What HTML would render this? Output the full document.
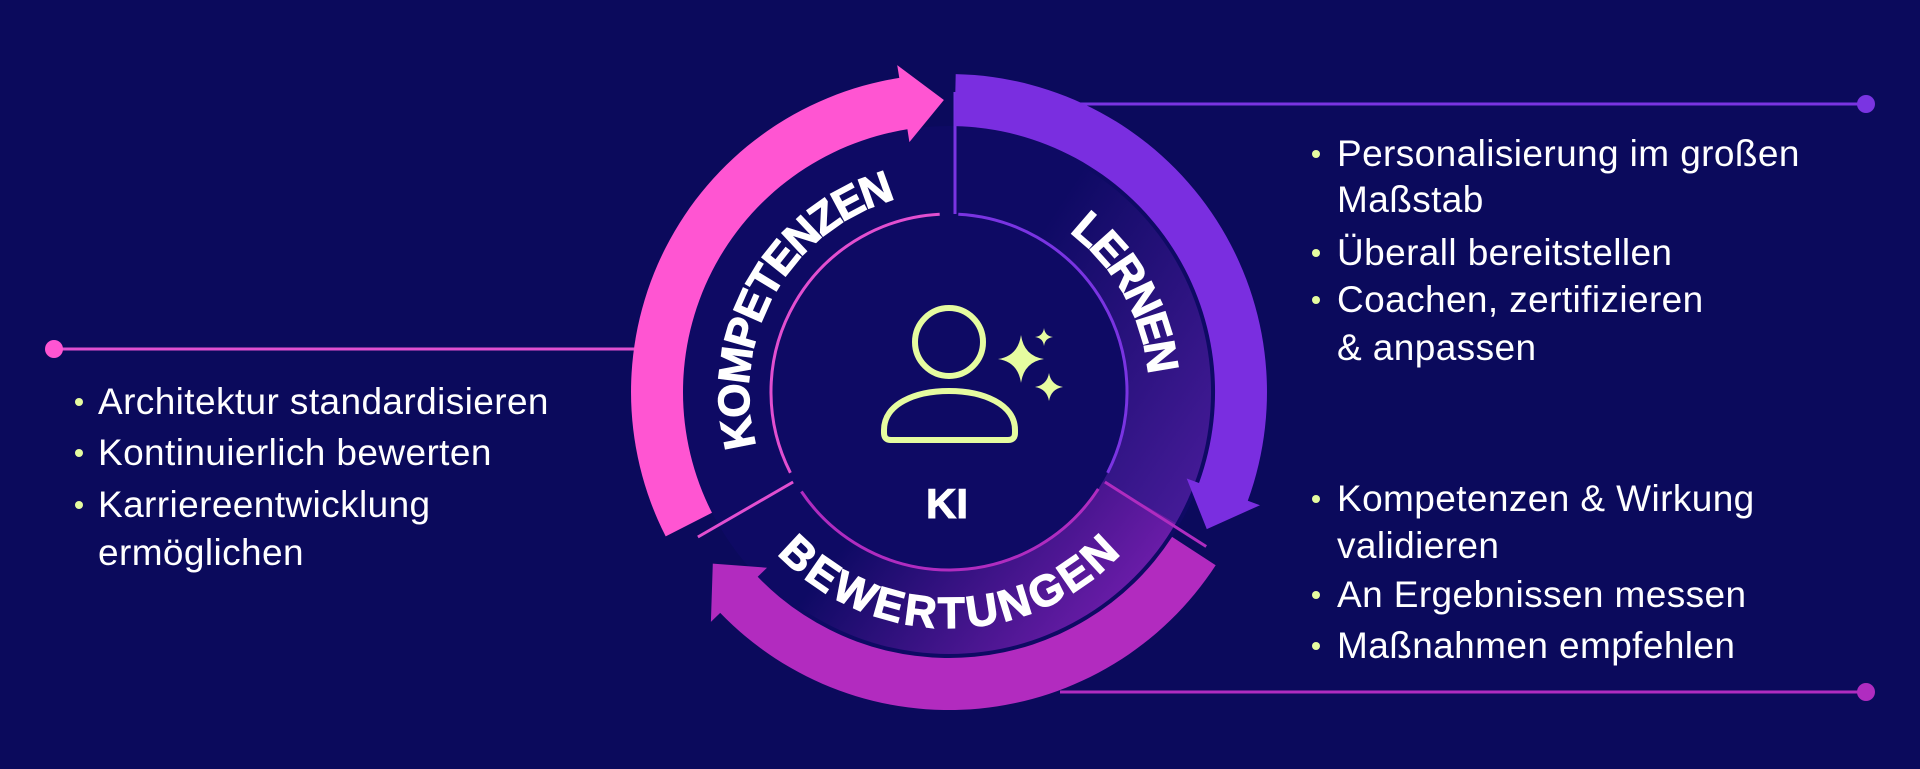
<!DOCTYPE html>
<html><head><meta charset="utf-8">
<style>
html,body{margin:0;padding:0;background:#0b0a5c;}
body{width:1920px;height:769px;overflow:hidden;position:relative;font-family:"Liberation Sans",sans-serif;}
svg{position:absolute;left:0;top:0;}
.t{font-family:"Liberation Sans",sans-serif;font-size:37px;letter-spacing:0.4px;fill:#ffffff;}
.b{fill:#e6fca0;}
.arc{font-family:"Liberation Sans",sans-serif;font-weight:bold;font-size:44px;fill:#fff;stroke:#fff;stroke-width:1.2px;}
</style></head>
<body>
<svg width="1920" height="769" viewBox="0 0 1920 769" xmlns="http://www.w3.org/2000/svg">
<defs>
<linearGradient id="gR" x1="0" y1="0" x2="1" y2="1">
<stop offset="0.3" stop-color="#0e0a64"/><stop offset="1" stop-color="#4a1c9c"/>
</linearGradient>
<linearGradient id="gB" x1="0" y1="0" x2="1" y2="0.3">
<stop offset="0.35" stop-color="#0e0a64"/><stop offset="1" stop-color="#6a1ca8"/>
</linearGradient>
<path id="pK" d=""/>
<path id="pL" d=""/>
<path id="pB" d=""/>
</defs>
<rect width="1920" height="769" fill="#0b0a5c"/>

<line x1="54" y1="349" x2="640" y2="349" stroke="#e050d0" stroke-width="3"/>
<circle cx="54" cy="349" r="9" fill="#ff55d2"/>
<line x1="1075" y1="104" x2="1866" y2="104" stroke="#7a34e2" stroke-width="3"/>
<circle cx="1866" cy="104" r="9" fill="#7a34e2"/>
<line x1="1060" y1="692" x2="1866" y2="692" stroke="#b02cc0" stroke-width="3"/>
<circle cx="1866" cy="692" r="9" fill="#b02cc0"/>

<g id="diag"></g>

<g fill="none" stroke="#e6fca0" stroke-width="6">
<circle cx="949" cy="342" r="34"/>
<path d="M884 430 C884 404 915 391 949 391 C983 391 1015 404 1015 430 L1015 433 Q1015 440 1008 440 L891 440 Q884 440 884 433 Z"/>
</g>
<g fill="#e6fca0">
<path d="M1021 335 Q1024 356 1044 359 Q1024 362 1021 383 Q1018 362 998 359 Q1018 356 1021 335 Z"/>
<path d="M1044 328 Q1045 336 1053 337 Q1045 338 1044 346 Q1043 338 1035 337 Q1043 336 1044 328 Z"/>
<path d="M1049 373 Q1051 385 1063 387 Q1051 389 1049 401 Q1047 389 1035 387 Q1047 385 1049 373 Z"/>
</g>
<text x="947" y="518" text-anchor="middle" font-family="Liberation Sans" font-weight="bold" font-size="42" fill="#fff" stroke="#fff" stroke-width="1">KI</text>

<text class="arc"><textPath href="#pK" startOffset="50%" text-anchor="middle" textLength="315" lengthAdjust="spacing">KOMPETENZEN</textPath></text>
<text class="arc"><textPath href="#pL" startOffset="50%" text-anchor="middle" textLength="168" lengthAdjust="spacing">LERNEN</textPath></text>
<text class="arc"><textPath href="#pB" startOffset="50%" text-anchor="middle" textLength="385" lengthAdjust="spacing">BEWERTUNGEN</textPath></text>

<g class="t">
<circle class="b" cx="79" cy="402" r="4"/>
<circle class="b" cx="79" cy="453" r="4"/>
<circle class="b" cx="79" cy="505" r="4"/>
<text x="98" y="414">Architektur standardisieren</text>
<text x="98" y="465">Kontinuierlich bewerten</text>
<text x="98" y="517">Karriereentwicklung</text>
<text x="98" y="565">ermöglichen</text>
</g>
<g class="t">
<circle class="b" cx="1316" cy="154" r="4"/>
<circle class="b" cx="1316" cy="253" r="4"/>
<circle class="b" cx="1316" cy="300" r="4"/>
<text x="1337" y="166">Personalisierung im großen</text>
<text x="1337" y="212">Maßstab</text>
<text x="1337" y="265">Überall bereitstellen</text>
<text x="1337" y="312">Coachen, zertifizieren</text>
<text x="1337" y="360">&amp; anpassen</text>
</g>
<g class="t">
<circle class="b" cx="1316" cy="499" r="4"/>
<circle class="b" cx="1316" cy="595" r="4"/>
<circle class="b" cx="1316" cy="646" r="4"/>
<text x="1337" y="511">Kompetenzen &amp; Wirkung</text>
<text x="1337" y="558">validieren</text>
<text x="1337" y="607">An Ergebnissen messen</text>
<text x="1337" y="658">Maßnahmen empfehlen</text>
</g>
</svg>
<script>
(function(){
var cx=949,cy=392;
function p(a,r){var t=a*Math.PI/180;return (cx+r*Math.sin(t)).toFixed(1)+" "+(cy-r*Math.cos(t)).toFixed(1);}
function lg(a0,a1){return Math.abs(a1-a0)>180?1:0;}
var RI=266,RO=318,RM=292,O=13;
function arrow(a0,a1,tip){
 return "M"+p(a0,RO)+" A"+RO+" "+RO+" 0 "+lg(a0,a1)+" 1 "+p(a1,RO)+" L"+p(a1,RO+O)+" L"+p(tip,RM)+" L"+p(a1,RI-O)+" L"+p(a1,RI)+" A"+RI+" "+RI+" 0 "+lg(a0,a1)+" 0 "+p(a0,RI)+" Z";
}
function sector(a0,a1,r0,r1){
 return "M"+p(a0,r1)+" A"+r1+" "+r1+" 0 "+lg(a0,a1)+" 1 "+p(a1,r1)+" L"+p(a1,r0)+" A"+r0+" "+r0+" 0 "+lg(a0,a1)+" 0 "+p(a0,r0)+" Z";
}
function arcp(a0,a1,r,sw){
 return "M"+p(a0,r)+" A"+r+" "+r+" 0 "+lg(a0,a1)+" "+sw+" "+p(a1,r);
}
var g=document.getElementById("diag"),s="";
s+='<circle cx="'+cx+'" cy="'+cy+'" r="'+RI+'" fill="#0e0a64"/>';
s+='<path d="'+sector(1,120,178,262)+'" fill="url(#gR)"/>';
s+='<path d="'+sector(120,240,178,262)+'" fill="url(#gB)"/>';
s+='<circle cx="'+cx+'" cy="'+cy+'" r="176" fill="#0e0a64"/>';
s+='<path d="'+arcp(243,357,178,1)+'" fill="none" stroke="#e24fd0" stroke-width="3"/>';
s+='<path d="'+arcp(3,117,178,1)+'" fill="none" stroke="#7a34e2" stroke-width="3"/>';
s+='<path d="'+arcp(123,236,178,1)+'" fill="none" stroke="#b02cc0" stroke-width="3"/>';
s+='<line x1="955" y1="'+(cy-178)+'" x2="955" y2="'+(cy-300)+'" stroke="#7a34e2" stroke-width="3"/>';
s+='<path d="M'+p(240,180)+' L'+p(240,290)+'" stroke="#e24fd0" stroke-width="3"/>';
s+='<path d="M'+p(120,180)+' L'+p(121,300)+'" stroke="#b02cc0" stroke-width="3"/>';
s+='<path d="'+arrow(243,351,359)+'" fill="#ff55d2"/>';
s+='<path d="'+arrow(1.2,110,118)+'" fill="#7a2ee0"/>';
s+='<path d="'+arrow(123,226,234)+'" fill="#b22bbf"/>';
g.innerHTML=s;
document.getElementById("pK").setAttribute("d",arcp(254,345,200,1));
document.getElementById("pL").setAttribute("d",arcp(36,86,200,1));
document.getElementById("pB").setAttribute("d",arcp(229,131,236,0));
})();
</script>
</body></html>
